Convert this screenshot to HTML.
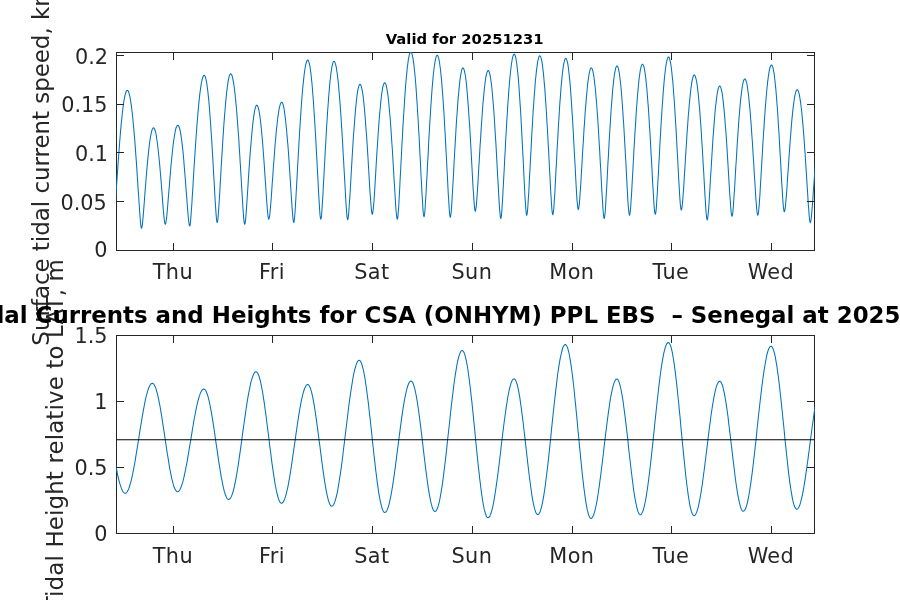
<!DOCTYPE html>
<html lang="en">
<head>
<meta charset="utf-8">
<title>Tidal Currents and Heights</title>
<style>
html,body{margin:0;padding:0;background:#fff;}
body{width:900px;height:600px;overflow:hidden;}
svg{display:block;}
text{font-family:"DejaVu Sans","Liberation Sans",sans-serif;fill:#262626;}
.tk{font-size:20.8px;}
.lb{font-size:22.9px;}
.xl{letter-spacing:0.4px;}
.lb2{letter-spacing:0.15px;}
.t1{font-size:14.8px;font-weight:bold;fill:#000;}
.t2{font-size:22.9px;font-weight:bold;fill:#000;white-space:pre;}
</style>
</head>
<body>
<svg width="900" height="600" viewBox="0 0 900 600">
<rect x="0" y="0" width="900" height="600" fill="#ffffff"/>
<defs>
<clipPath id="c1"><rect x="116.0" y="52.0" width="699.0" height="199.0"/></clipPath>
<clipPath id="c2"><rect x="116.0" y="335.0" width="699.0" height="199.0"/></clipPath>
</defs>

<rect x="116.5" y="52.5" width="698.0" height="198.0" stroke="#262626" stroke-width="1" fill="none" shape-rendering="crispEdges"/>
<g clip-path="url(#c1)"><polyline fill="none" stroke="#0072BD" stroke-width="1.05" stroke-linejoin="round" points="113.1,225.3 113.4,224.5 113.8,222.4 114.1,219.2 114.5,215.2 114.8,210.7 115.2,205.8 115.6,200.7 115.9,195.5 116.3,190.2 116.6,184.9 117.0,179.6 117.3,174.4 117.7,169.2 118.0,164.1 118.4,159.1 118.8,154.2 119.1,149.4 119.5,144.7 119.8,140.2 120.2,135.8 120.5,131.6 120.9,127.6 121.2,123.7 121.6,120.1 122.0,116.6 122.3,113.3 122.7,110.2 123.0,107.3 123.4,104.6 123.7,102.2 124.1,99.9 124.5,97.9 124.8,96.2 125.2,94.6 125.5,93.3 125.9,92.2 126.2,91.4 126.6,90.8 126.9,90.4 127.3,90.3 127.7,90.4 128.0,90.8 128.4,91.4 128.7,92.2 129.1,93.3 129.4,94.6 129.8,96.2 130.1,98.0 130.5,100.0 130.8,102.3 131.2,104.7 131.6,107.4 131.9,110.3 132.3,113.4 132.6,116.7 133.0,120.2 133.3,123.9 133.7,127.8 134.0,131.9 134.4,136.1 134.8,140.5 135.1,145.1 135.5,149.8 135.8,154.6 136.2,159.6 136.5,164.7 136.9,169.9 137.2,175.1 137.6,180.5 137.9,185.9 138.3,191.3 138.7,196.7 139.0,202.0 139.4,207.3 139.7,212.4 140.1,217.2 140.4,221.5 140.8,225.0 141.1,227.4 141.5,228.3 141.8,227.8 142.1,226.4 142.4,224.2 142.7,221.4 143.0,218.1 143.3,214.6 143.6,210.9 143.9,207.1 144.2,203.2 144.5,199.3 144.8,195.3 145.1,191.4 145.4,187.5 145.7,183.7 146.0,179.9 146.3,176.2 146.6,172.6 146.9,169.0 147.2,165.6 147.5,162.3 147.8,159.1 148.1,156.1 148.4,153.2 148.7,150.4 149.0,147.7 149.3,145.2 149.6,142.9 149.9,140.7 150.2,138.7 150.5,136.8 150.8,135.1 151.1,133.6 151.4,132.3 151.7,131.1 152.0,130.1 152.3,129.3 152.6,128.6 152.9,128.2 153.2,127.9 153.5,127.8 153.8,127.9 154.1,128.2 154.4,128.6 154.7,129.2 155.0,130.0 155.3,131.0 155.6,132.2 155.9,133.5 156.2,135.0 156.4,136.7 156.7,138.5 157.0,140.5 157.3,142.7 157.6,145.0 157.9,147.4 158.2,150.0 158.5,152.8 158.8,155.7 159.1,158.7 159.4,161.8 159.7,165.0 160.0,168.4 160.3,171.8 160.6,175.3 160.9,178.9 161.2,182.6 161.5,186.3 161.8,190.1 162.1,193.9 162.4,197.7 162.6,201.4 162.9,205.1 163.2,208.7 163.5,212.2 163.8,215.4 164.1,218.3 164.4,220.8 164.7,222.7 165.0,223.9 165.3,224.3 165.6,223.9 165.9,222.6 166.2,220.6 166.6,218.0 166.9,215.0 167.2,211.7 167.5,208.2 167.8,204.5 168.1,200.6 168.4,196.8 168.7,192.9 169.1,189.0 169.4,185.1 169.7,181.3 170.0,177.6 170.3,173.9 170.6,170.2 170.9,166.7 171.2,163.3 171.6,160.0 171.9,156.8 172.2,153.7 172.5,150.8 172.8,148.0 173.1,145.3 173.4,142.8 173.7,140.4 174.1,138.2 174.4,136.2 174.7,134.3 175.0,132.6 175.3,131.1 175.6,129.7 175.9,128.5 176.2,127.5 176.6,126.7 176.9,126.0 177.2,125.6 177.5,125.3 177.8,125.2 178.1,125.3 178.4,125.6 178.7,126.0 179.0,126.7 179.3,127.5 179.6,128.5 179.9,129.7 180.2,131.1 180.5,132.6 180.8,134.4 181.1,136.2 181.4,138.3 181.7,140.5 182.0,142.9 182.3,145.4 182.6,148.1 182.9,150.9 183.2,153.9 183.5,157.0 183.8,160.2 184.0,163.6 184.3,167.0 184.6,170.6 184.9,174.2 185.2,178.0 185.5,181.8 185.8,185.7 186.1,189.6 186.4,193.5 186.7,197.5 187.0,201.4 187.3,205.3 187.6,209.1 187.9,212.8 188.2,216.2 188.5,219.4 188.8,222.1 189.1,224.2 189.4,225.5 189.7,226.0 190.1,225.1 190.4,222.5 190.8,218.6 191.1,213.9 191.5,208.7 191.9,203.2 192.2,197.4 192.6,191.6 193.0,185.7 193.3,179.7 193.7,173.9 194.0,168.0 194.4,162.3 194.8,156.6 195.1,151.1 195.5,145.6 195.9,140.3 196.2,135.2 196.6,130.2 196.9,125.4 197.3,120.8 197.7,116.3 198.0,112.1 198.4,108.0 198.8,104.2 199.1,100.6 199.5,97.2 199.8,94.0 200.2,91.1 200.6,88.4 200.9,85.9 201.3,83.7 201.7,81.7 202.0,80.0 202.4,78.6 202.8,77.4 203.1,76.5 203.5,75.8 203.8,75.4 204.2,75.3 204.5,75.4 204.8,75.8 205.2,76.5 205.5,77.4 205.8,78.6 206.1,80.0 206.5,81.7 206.8,83.7 207.1,85.8 207.4,88.3 207.8,91.0 208.1,93.9 208.4,97.0 208.8,100.4 209.1,104.0 209.4,107.8 209.7,111.8 210.0,116.0 210.4,120.5 210.7,125.0 211.0,129.8 211.3,134.7 211.7,139.8 212.0,145.1 212.3,150.4 212.6,155.9 213.0,161.5 213.3,167.1 213.6,172.9 213.9,178.6 214.3,184.4 214.6,190.2 214.9,195.8 215.2,201.4 215.6,206.7 215.9,211.6 216.2,215.9 216.5,219.4 216.9,221.7 217.2,222.5 217.5,221.7 217.9,219.3 218.2,215.8 218.5,211.4 218.9,206.4 219.2,201.1 219.6,195.5 219.9,189.7 220.2,183.9 220.6,178.1 220.9,172.3 221.2,166.5 221.6,160.8 221.9,155.1 222.3,149.6 222.6,144.2 222.9,138.9 223.3,133.8 223.6,128.8 223.9,124.0 224.3,119.4 224.6,114.9 225.0,110.7 225.3,106.6 225.6,102.8 226.0,99.1 226.3,95.7 226.6,92.5 227.0,89.6 227.3,86.9 227.7,84.4 228.0,82.2 228.3,80.3 228.7,78.6 229.0,77.1 229.3,75.9 229.7,75.0 230.0,74.3 230.4,73.9 230.7,73.8 231.0,73.9 231.4,74.3 231.8,75.0 232.1,75.9 232.4,77.1 232.8,78.6 233.1,80.3 233.5,82.3 233.8,84.5 234.2,86.9 234.5,89.7 234.9,92.6 235.2,95.8 235.6,99.2 235.9,102.9 236.3,106.7 236.6,110.8 237.0,115.1 237.3,119.5 237.7,124.2 238.0,129.0 238.4,134.0 238.8,139.2 239.1,144.5 239.4,149.9 239.8,155.5 240.1,161.2 240.5,167.0 240.8,172.8 241.2,178.7 241.5,184.6 241.9,190.5 242.2,196.3 242.6,202.0 242.9,207.5 243.3,212.6 243.6,217.2 244.0,220.9 244.3,223.4 244.7,224.3 245.0,223.7 245.3,222.0 245.6,219.4 245.9,216.1 246.2,212.2 246.5,208.1 246.8,203.7 247.1,199.1 247.4,194.5 247.7,189.9 248.0,185.2 248.3,180.5 248.6,175.9 248.9,171.4 249.2,166.9 249.5,162.5 249.8,158.2 250.1,154.1 250.4,150.0 250.8,146.1 251.1,142.3 251.4,138.7 251.7,135.2 252.0,131.9 252.3,128.8 252.6,125.9 252.9,123.1 253.2,120.5 253.5,118.1 253.8,115.9 254.1,113.9 254.4,112.1 254.7,110.5 255.0,109.1 255.3,107.9 255.6,106.9 255.9,106.2 256.2,105.6 256.5,105.3 256.8,105.2 257.1,105.3 257.4,105.6 257.7,106.2 258.0,106.9 258.3,107.9 258.6,109.0 258.9,110.4 259.2,112.0 259.5,113.8 259.8,115.7 260.1,117.9 260.4,120.3 260.7,122.8 261.0,125.5 261.3,128.4 261.6,131.5 261.9,134.8 262.2,138.2 262.5,141.7 262.8,145.4 263.1,149.2 263.4,153.2 263.7,157.2 264.0,161.4 264.3,165.7 264.6,170.0 264.9,174.4 265.2,178.9 265.5,183.4 265.8,187.8 266.1,192.3 266.4,196.6 266.7,200.9 267.0,204.9 267.3,208.7 267.6,212.1 267.9,215.0 268.2,217.3 268.5,218.7 268.8,219.2 269.1,218.7 269.4,217.2 269.8,214.9 270.1,211.8 270.4,208.3 270.7,204.4 271.1,200.2 271.4,195.9 271.7,191.4 272.0,186.8 272.3,182.2 272.7,177.6 273.0,173.1 273.3,168.5 273.6,164.1 274.0,159.7 274.3,155.5 274.6,151.3 274.9,147.2 275.2,143.3 275.6,139.5 275.9,135.9 276.2,132.4 276.5,129.1 276.9,126.0 277.2,123.0 277.5,120.2 277.8,117.6 278.2,115.2 278.5,113.0 278.8,110.9 279.1,109.1 279.4,107.5 279.8,106.1 280.1,104.9 280.4,103.9 280.7,103.2 281.1,102.6 281.4,102.3 281.7,102.2 282.0,102.3 282.3,102.6 282.6,103.2 282.9,104.0 283.2,104.9 283.5,106.1 283.8,107.6 284.1,109.2 284.4,111.0 284.7,113.1 285.0,115.3 285.3,117.8 285.6,120.4 285.9,123.2 286.2,126.2 286.5,129.4 286.8,132.8 287.1,136.3 287.4,140.0 287.8,143.8 288.1,147.8 288.4,151.9 288.7,156.1 289.0,160.4 289.3,164.9 289.6,169.4 289.9,174.0 290.2,178.7 290.5,183.4 290.8,188.1 291.1,192.8 291.4,197.5 291.7,202.1 292.0,206.5 292.3,210.6 292.6,214.4 292.9,217.7 293.2,220.3 293.5,221.9 293.8,222.5 294.1,221.5 294.5,218.8 294.8,214.8 295.2,209.8 295.5,204.3 295.9,198.4 296.2,192.2 296.6,185.9 296.9,179.5 297.3,173.1 297.6,166.8 298.0,160.5 298.3,154.3 298.7,148.1 299.0,142.1 299.4,136.3 299.7,130.5 300.1,125.0 300.4,119.6 300.8,114.3 301.1,109.3 301.4,104.5 301.8,99.9 302.1,95.5 302.5,91.3 302.8,87.4 303.2,83.7 303.5,80.3 303.9,77.1 304.2,74.2 304.6,71.5 304.9,69.1 305.3,67.0 305.6,65.1 306.0,63.6 306.3,62.3 306.7,61.3 307.0,60.6 307.4,60.1 307.7,60.0 308.0,60.1 308.4,60.6 308.7,61.3 309.0,62.3 309.3,63.6 309.7,65.1 310.0,67.0 310.3,69.1 310.6,71.4 311.0,74.1 311.3,77.0 311.6,80.2 312.0,83.6 312.3,87.3 312.6,91.2 312.9,95.3 313.3,99.6 313.6,104.2 313.9,109.0 314.2,114.0 314.6,119.2 314.9,124.5 315.2,130.0 315.6,135.7 315.9,141.5 316.2,147.4 316.5,153.5 316.9,159.6 317.2,165.8 317.5,172.1 317.9,178.3 318.2,184.5 318.5,190.7 318.8,196.6 319.2,202.3 319.5,207.6 319.8,212.2 320.1,215.9 320.5,218.3 320.8,219.2 321.1,218.4 321.5,215.9 321.8,212.3 322.1,207.7 322.4,202.5 322.8,196.9 323.1,191.0 323.4,184.9 323.8,178.7 324.1,172.5 324.4,166.3 324.8,160.2 325.1,154.1 325.4,148.1 325.8,142.2 326.1,136.4 326.4,130.8 326.7,125.3 327.1,120.0 327.4,114.9 327.7,110.0 328.1,105.2 328.4,100.7 328.7,96.3 329.1,92.2 329.4,88.4 329.7,84.7 330.0,81.3 330.4,78.2 330.7,75.3 331.0,72.7 331.4,70.3 331.7,68.2 332.0,66.4 332.4,64.8 332.7,63.6 333.0,62.6 333.3,61.9 333.7,61.4 334.0,61.3 334.3,61.4 334.7,61.9 335.0,62.6 335.4,63.6 335.7,64.8 336.1,66.4 336.4,68.2 336.7,70.3 337.1,72.7 337.4,75.3 337.8,78.2 338.1,81.3 338.5,84.7 338.8,88.4 339.1,92.3 339.5,96.4 339.8,100.7 340.2,105.2 340.5,110.0 340.9,115.0 341.2,120.1 341.5,125.4 341.9,130.9 342.2,136.5 342.6,142.3 342.9,148.2 343.2,154.2 343.6,160.3 343.9,166.5 344.3,172.7 344.6,178.9 345.0,185.1 345.3,191.2 345.6,197.1 346.0,202.8 346.3,208.1 346.7,212.7 347.0,216.4 347.4,218.8 347.7,219.7 348.0,219.0 348.3,217.1 348.6,214.2 348.9,210.5 349.2,206.2 349.5,201.5 349.9,196.5 350.2,191.4 350.5,186.1 350.8,180.8 351.1,175.5 351.4,170.2 351.7,165.0 352.0,159.8 352.3,154.7 352.6,149.7 352.9,144.8 353.2,140.1 353.5,135.4 353.9,131.0 354.2,126.7 354.5,122.5 354.8,118.6 355.1,114.8 355.4,111.3 355.7,107.9 356.0,104.7 356.3,101.8 356.6,99.0 356.9,96.5 357.2,94.2 357.5,92.1 357.8,90.3 358.2,88.7 358.5,87.4 358.8,86.3 359.1,85.4 359.4,84.8 359.7,84.4 360.0,84.3 360.3,84.4 360.6,84.8 360.9,85.4 361.2,86.2 361.5,87.3 361.8,88.7 362.2,90.2 362.5,92.0 362.8,94.1 363.1,96.3 363.4,98.8 363.7,101.5 364.0,104.4 364.3,107.5 364.6,110.9 364.9,114.4 365.2,118.1 365.5,122.0 365.8,126.0 366.1,130.2 366.5,134.6 366.8,139.1 367.1,143.8 367.4,148.5 367.7,153.4 368.0,158.3 368.3,163.4 368.6,168.4 368.9,173.5 369.2,178.6 369.5,183.7 369.8,188.7 370.1,193.5 370.5,198.1 370.8,202.4 371.1,206.3 371.4,209.6 371.7,212.1 372.0,213.7 372.3,214.3 372.6,213.7 372.9,212.1 373.2,209.5 373.5,206.1 373.9,202.2 374.2,197.8 374.5,193.2 374.8,188.3 375.1,183.2 375.4,178.1 375.7,172.9 376.0,167.8 376.3,162.6 376.6,157.6 376.9,152.5 377.3,147.6 377.6,142.8 377.9,138.1 378.2,133.5 378.5,129.1 378.8,124.9 379.1,120.8 379.4,116.8 379.7,113.1 380.1,109.5 380.4,106.2 380.7,103.0 381.0,100.1 381.3,97.4 381.6,94.9 381.9,92.6 382.2,90.5 382.5,88.7 382.8,87.1 383.1,85.8 383.5,84.7 383.8,83.8 384.1,83.2 384.4,82.8 384.7,82.7 385.0,82.8 385.3,83.2 385.6,83.8 386.0,84.7 386.3,85.8 386.6,87.2 386.9,88.8 387.2,90.6 387.5,92.7 387.9,95.0 388.2,97.6 388.5,100.3 388.8,103.3 389.1,106.5 389.4,109.9 389.7,113.5 390.1,117.3 390.4,121.3 390.7,125.5 391.0,129.8 391.3,134.3 391.6,139.0 391.9,143.7 392.3,148.7 392.6,153.7 392.9,158.9 393.2,164.1 393.5,169.4 393.8,174.7 394.1,180.1 394.5,185.4 394.8,190.7 395.1,195.9 395.4,200.9 395.7,205.6 396.0,209.9 396.4,213.7 396.7,216.6 397.0,218.5 397.3,219.2 397.6,218.3 398.0,215.6 398.3,211.6 398.7,206.7 399.0,201.1 399.3,195.1 399.7,188.8 400.0,182.3 400.3,175.8 400.7,169.2 401.0,162.7 401.4,156.2 401.7,149.7 402.0,143.4 402.4,137.2 402.7,131.1 403.0,125.2 403.4,119.4 403.7,113.8 404.1,108.4 404.4,103.2 404.7,98.2 405.1,93.4 405.4,88.9 405.7,84.5 406.1,80.5 406.4,76.6 406.8,73.1 407.1,69.8 407.4,66.7 407.8,64.0 408.1,61.5 408.4,59.3 408.8,57.3 409.1,55.7 409.4,54.4 409.8,53.3 410.1,52.6 410.5,52.1 410.8,52.0 411.1,52.1 411.5,52.6 411.8,53.3 412.1,54.4 412.4,55.7 412.8,57.3 413.1,59.2 413.4,61.4 413.8,63.9 414.1,66.7 414.4,69.7 414.8,73.0 415.1,76.5 415.4,80.3 415.8,84.4 416.1,88.7 416.4,93.2 416.7,98.0 417.1,102.9 417.4,108.1 417.7,113.5 418.1,119.0 418.4,124.8 418.7,130.7 419.1,136.7 419.4,142.9 419.7,149.1 420.0,155.5 420.4,161.9 420.7,168.4 421.0,174.8 421.4,181.2 421.7,187.6 422.0,193.7 422.4,199.5 422.7,204.9 423.0,209.6 423.3,213.4 423.7,215.8 424.0,216.7 424.3,215.9 424.7,213.5 425.0,209.8 425.3,205.3 425.6,200.0 426.0,194.3 426.3,188.3 426.6,182.1 427.0,175.9 427.3,169.5 427.6,163.2 428.0,156.9 428.3,150.7 428.6,144.5 428.9,138.5 429.3,132.6 429.6,126.8 429.9,121.1 430.3,115.7 430.6,110.4 430.9,105.3 431.3,100.5 431.6,95.8 431.9,91.3 432.2,87.1 432.6,83.1 432.9,79.4 433.2,75.9 433.6,72.7 433.9,69.7 434.2,67.0 434.6,64.6 434.9,62.4 435.2,60.5 435.6,58.9 435.9,57.6 436.2,56.6 436.5,55.9 436.9,55.4 437.2,55.3 437.5,55.4 437.9,55.9 438.2,56.6 438.5,57.6 438.8,58.9 439.2,60.5 439.5,62.4 439.8,64.6 440.1,67.0 440.5,69.7 440.8,72.7 441.1,75.9 441.5,79.4 441.8,83.2 442.1,87.1 442.4,91.4 442.8,95.8 443.1,100.5 443.4,105.4 443.8,110.5 444.1,115.8 444.4,121.2 444.7,126.9 445.1,132.6 445.4,138.6 445.7,144.6 446.0,150.8 446.4,157.0 446.7,163.4 447.0,169.7 447.4,176.1 447.7,182.4 448.0,188.6 448.3,194.6 448.7,200.3 449.0,205.6 449.3,210.3 449.6,213.9 450.0,216.4 450.3,217.2 450.6,216.5 450.9,214.3 451.3,211.1 451.6,206.9 451.9,202.2 452.2,197.0 452.5,191.5 452.8,185.8 453.2,180.0 453.5,174.2 453.8,168.3 454.1,162.5 454.4,156.7 454.7,151.0 455.1,145.4 455.4,139.9 455.7,134.5 456.0,129.3 456.3,124.2 456.6,119.3 457.0,114.6 457.3,110.1 457.6,105.7 457.9,101.6 458.2,97.6 458.6,93.9 458.9,90.4 459.2,87.2 459.5,84.2 459.8,81.4 460.1,78.9 460.5,76.6 460.8,74.6 461.1,72.9 461.4,71.4 461.7,70.2 462.0,69.2 462.4,68.5 462.7,68.1 463.0,68.0 463.3,68.1 463.6,68.5 463.9,69.2 464.2,70.1 464.5,71.3 464.8,72.8 465.2,74.5 465.5,76.5 465.8,78.7 466.1,81.2 466.4,84.0 466.7,86.9 467.0,90.1 467.3,93.6 467.6,97.2 467.9,101.1 468.2,105.1 468.5,109.4 468.8,113.9 469.1,118.5 469.5,123.3 469.8,128.3 470.1,133.4 470.4,138.6 470.7,144.0 471.0,149.5 471.3,155.0 471.6,160.6 471.9,166.2 472.2,171.8 472.5,177.4 472.8,182.9 473.1,188.2 473.5,193.3 473.8,198.1 474.1,202.4 474.4,206.1 474.7,208.9 475.0,210.7 475.3,211.3 475.6,210.7 475.9,208.9 476.3,206.2 476.6,202.6 476.9,198.4 477.2,193.8 477.6,188.8 477.9,183.5 478.2,178.2 478.5,172.7 478.8,167.2 479.2,161.6 479.5,156.1 479.8,150.7 480.1,145.3 480.5,140.0 480.8,134.9 481.1,129.9 481.4,125.0 481.8,120.2 482.1,115.7 482.4,111.3 482.7,107.1 483.0,103.1 483.4,99.3 483.7,95.7 484.0,92.3 484.3,89.1 484.7,86.2 485.0,83.5 485.3,81.1 485.6,78.9 485.9,76.9 486.3,75.2 486.6,73.8 486.9,72.6 487.2,71.7 487.6,71.0 487.9,70.6 488.2,70.5 488.5,70.6 488.8,71.0 489.1,71.7 489.5,72.6 489.8,73.8 490.1,75.3 490.4,77.0 490.7,79.0 491.0,81.3 491.4,83.8 491.7,86.5 492.0,89.5 492.3,92.7 492.6,96.1 492.9,99.8 493.2,103.7 493.6,107.8 493.9,112.1 494.2,116.5 494.5,121.2 494.8,126.1 495.1,131.1 495.4,136.3 495.8,141.6 496.1,147.0 496.4,152.6 496.7,158.2 497.0,164.0 497.3,169.7 497.6,175.5 498.0,181.3 498.3,187.1 498.6,192.7 498.9,198.2 499.2,203.4 499.5,208.2 499.9,212.3 500.2,215.6 500.5,217.8 500.8,218.5 501.1,217.6 501.5,215.1 501.8,211.2 502.1,206.4 502.5,201.0 502.8,195.1 503.1,189.0 503.5,182.6 503.8,176.2 504.2,169.8 504.5,163.3 504.8,156.9 505.2,150.6 505.5,144.4 505.8,138.2 506.2,132.2 506.5,126.4 506.8,120.7 507.2,115.2 507.5,109.9 507.8,104.7 508.2,99.8 508.5,95.1 508.8,90.6 509.2,86.3 509.5,82.3 509.8,78.5 510.2,75.0 510.5,71.7 510.9,68.7 511.2,66.0 511.5,63.5 511.9,61.4 512.2,59.5 512.5,57.9 512.9,56.6 513.2,55.5 513.5,54.8 513.9,54.3 514.2,54.2 514.5,54.3 514.8,54.8 515.1,55.5 515.5,56.5 515.8,57.8 516.1,59.4 516.4,61.3 516.7,63.5 517.0,65.9 517.3,68.6 517.6,71.6 518.0,74.9 518.3,78.4 518.6,82.1 518.9,86.1 519.2,90.3 519.5,94.8 519.8,99.5 520.1,104.4 520.5,109.5 520.8,114.8 521.1,120.2 521.4,125.9 521.7,131.6 522.0,137.6 522.3,143.6 522.6,149.8 523.0,156.0 523.3,162.3 523.6,168.6 523.9,174.9 524.2,181.2 524.5,187.3 524.8,193.2 525.1,198.9 525.5,204.0 525.8,208.5 526.1,212.1 526.4,214.4 526.7,215.2 527.0,214.4 527.4,212.1 527.7,208.6 528.0,204.2 528.3,199.1 528.7,193.5 529.0,187.7 529.3,181.6 529.6,175.4 530.0,169.2 530.3,162.9 530.6,156.7 531.0,150.5 531.3,144.4 531.6,138.4 531.9,132.5 532.3,126.8 532.6,121.2 532.9,115.8 533.2,110.6 533.6,105.5 533.9,100.7 534.2,96.0 534.6,91.6 534.9,87.4 535.2,83.5 535.5,79.8 535.9,76.3 536.2,73.1 536.5,70.1 536.9,67.4 537.2,65.0 537.5,62.9 537.8,61.0 538.2,59.4 538.5,58.1 538.8,57.1 539.1,56.4 539.5,55.9 539.8,55.8 540.1,55.9 540.4,56.4 540.8,57.1 541.1,58.1 541.4,59.4 541.8,61.0 542.1,62.9 542.4,65.0 542.7,67.4 543.0,70.1 543.4,73.1 543.7,76.3 544.0,79.7 544.3,83.4 544.7,87.4 545.0,91.6 545.3,96.0 545.6,100.6 546.0,105.5 546.3,110.5 546.6,115.7 546.9,121.2 547.3,126.7 547.6,132.5 547.9,138.3 548.2,144.3 548.6,150.4 548.9,156.5 549.2,162.7 549.5,169.0 549.9,175.2 550.2,181.4 550.5,187.4 550.8,193.2 551.2,198.8 551.5,203.8 551.8,208.2 552.1,211.7 552.5,213.9 552.8,214.7 553.1,213.9 553.4,211.8 553.8,208.4 554.1,204.1 554.4,199.1 554.8,193.7 555.1,188.0 555.4,182.0 555.7,176.0 556.0,169.9 556.4,163.7 556.7,157.6 557.0,151.5 557.3,145.5 557.7,139.6 558.0,133.9 558.3,128.2 558.6,122.7 559.0,117.4 559.3,112.3 559.6,107.3 559.9,102.5 560.3,97.9 560.6,93.6 560.9,89.5 561.2,85.6 561.6,81.9 561.9,78.5 562.2,75.3 562.5,72.4 562.9,69.8 563.2,67.4 563.5,65.3 563.8,63.4 564.2,61.9 564.5,60.6 564.8,59.6 565.1,58.9 565.5,58.4 565.8,58.3 566.1,58.4 566.4,58.9 566.7,59.6 567.0,60.6 567.4,61.8 567.7,63.4 568.0,65.2 568.3,67.3 568.6,69.6 568.9,72.2 569.2,75.1 569.5,78.2 569.9,81.6 570.2,85.2 570.5,89.1 570.8,93.2 571.1,97.4 571.4,101.9 571.7,106.6 572.0,111.5 572.4,116.6 572.7,121.8 573.0,127.2 573.3,132.8 573.6,138.4 573.9,144.2 574.2,150.0 574.5,155.9 574.9,161.8 575.2,167.8 575.5,173.7 575.8,179.5 576.1,185.1 576.4,190.5 576.7,195.5 577.0,200.1 577.4,203.9 577.7,206.9 578.0,208.8 578.3,209.5 578.6,208.9 578.9,207.2 579.3,204.5 579.6,201.0 579.9,196.8 580.2,192.2 580.6,187.2 580.9,181.9 581.2,176.5 581.5,171.0 581.9,165.5 582.2,160.0 582.5,154.4 582.8,148.9 583.2,143.5 583.5,138.2 583.8,133.0 584.1,127.9 584.5,123.0 584.8,118.2 585.1,113.6 585.4,109.2 585.8,104.9 586.1,100.9 586.4,97.1 586.8,93.4 587.1,90.0 587.4,86.8 587.7,83.9 588.0,81.2 588.4,78.7 588.7,76.5 589.0,74.5 589.3,72.8 589.7,71.3 590.0,70.1 590.3,69.2 590.6,68.5 591.0,68.1 591.3,68.0 591.6,68.1 591.9,68.5 592.3,69.2 592.6,70.2 592.9,71.4 593.2,72.9 593.6,74.6 593.9,76.7 594.2,78.9 594.5,81.4 594.8,84.2 595.2,87.2 595.5,90.5 595.8,94.0 596.1,97.7 596.5,101.7 596.8,105.8 597.1,110.2 597.4,114.7 597.8,119.5 598.1,124.4 598.4,129.5 598.7,134.8 599.0,140.1 599.4,145.7 599.7,151.3 600.0,157.1 600.3,162.9 600.7,168.8 601.0,174.7 601.3,180.6 601.6,186.4 601.9,192.2 602.3,197.7 602.6,203.0 602.9,207.9 603.2,212.2 603.6,215.5 603.9,217.7 604.2,218.5 604.5,217.7 604.8,215.5 605.2,212.0 605.5,207.7 605.8,202.7 606.1,197.4 606.4,191.7 606.8,185.9 607.1,179.9 607.4,174.0 607.7,168.0 608.0,162.0 608.4,156.1 608.7,150.3 609.0,144.6 609.3,139.0 609.6,133.5 610.0,128.2 610.3,123.1 610.6,118.1 610.9,113.3 611.2,108.7 611.6,104.3 611.9,100.1 612.2,96.1 612.5,92.3 612.8,88.8 613.2,85.5 613.5,82.4 613.8,79.6 614.1,77.0 614.4,74.8 614.8,72.7 615.1,70.9 615.4,69.4 615.7,68.2 616.0,67.2 616.4,66.6 616.7,66.1 617.0,66.0 617.3,66.1 617.6,66.5 617.9,67.2 618.2,68.2 618.6,69.4 618.9,70.9 619.2,72.7 619.5,74.7 619.8,77.0 620.1,79.5 620.4,82.3 620.8,85.3 621.1,88.6 621.4,92.1 621.7,95.8 622.0,99.8 622.3,104.0 622.6,108.3 622.9,112.9 623.2,117.7 623.6,122.6 623.9,127.7 624.2,133.0 624.5,138.4 624.8,143.9 625.1,149.5 625.4,155.2 625.8,161.0 626.1,166.9 626.4,172.7 626.7,178.6 627.0,184.3 627.3,190.0 627.6,195.4 627.9,200.6 628.2,205.2 628.6,209.3 628.9,212.4 629.2,214.5 629.5,215.2 629.8,214.5 630.1,212.4 630.5,209.2 630.8,205.1 631.1,200.3 631.5,195.1 631.8,189.6 632.1,183.9 632.4,178.0 632.8,172.1 633.1,166.2 633.4,160.3 633.7,154.4 634.0,148.6 634.4,142.9 634.7,137.3 635.0,131.9 635.4,126.6 635.7,121.4 636.0,116.4 636.3,111.6 636.6,107.0 637.0,102.6 637.3,98.4 637.6,94.4 638.0,90.6 638.3,87.0 638.6,83.7 638.9,80.7 639.2,77.9 639.6,75.3 639.9,73.0 640.2,70.9 640.5,69.2 640.9,67.6 641.2,66.4 641.5,65.4 641.9,64.8 642.2,64.3 642.5,64.2 642.8,64.3 643.1,64.8 643.5,65.4 643.8,66.4 644.1,67.6 644.4,69.2 644.7,70.9 645.1,73.0 645.4,75.3 645.7,77.8 646.0,80.6 646.3,83.7 646.7,87.0 647.0,90.5 647.3,94.3 647.6,98.3 647.9,102.5 648.3,106.9 648.6,111.5 648.9,116.3 649.2,121.3 649.5,126.4 649.9,131.7 650.2,137.1 650.5,142.7 650.8,148.4 651.1,154.1 651.5,160.0 651.8,165.9 652.1,171.8 652.4,177.6 652.7,183.4 653.1,189.1 653.4,194.5 653.7,199.7 654.0,204.4 654.3,208.4 654.7,211.6 655.0,213.6 655.3,214.3 655.6,213.5 656.0,211.3 656.3,208.0 656.6,203.7 656.9,198.7 657.3,193.2 657.6,187.5 657.9,181.5 658.3,175.4 658.6,169.2 658.9,163.1 659.3,156.9 659.6,150.8 659.9,144.8 660.2,138.9 660.6,133.1 660.9,127.4 661.2,121.9 661.6,116.5 661.9,111.3 662.2,106.3 662.6,101.5 662.9,96.9 663.2,92.5 663.5,88.4 663.9,84.4 664.2,80.7 664.5,77.3 664.9,74.1 665.2,71.2 665.5,68.5 665.9,66.1 666.2,64.0 666.5,62.2 666.9,60.6 667.2,59.3 667.5,58.3 667.8,57.6 668.2,57.1 668.5,57.0 668.8,57.1 669.1,57.6 669.5,58.3 669.8,59.3 670.1,60.6 670.4,62.1 670.7,63.9 671.1,66.0 671.4,68.4 671.7,71.1 672.0,74.0 672.3,77.1 672.7,80.5 673.0,84.2 673.3,88.0 673.6,92.2 673.9,96.5 674.3,101.0 674.6,105.8 674.9,110.7 675.2,115.8 675.5,121.1 675.9,126.6 676.2,132.1 676.5,137.8 676.8,143.7 677.1,149.6 677.5,155.5 677.8,161.5 678.1,167.5 678.4,173.5 678.7,179.4 679.1,185.1 679.4,190.6 679.7,195.7 680.0,200.3 680.3,204.3 680.7,207.4 681.0,209.3 681.3,210.0 681.6,209.4 681.9,207.8 682.3,205.3 682.6,202.0 682.9,198.1 683.2,193.7 683.6,188.9 683.9,184.0 684.2,178.9 684.5,173.6 684.9,168.3 685.2,163.0 685.5,157.8 685.8,152.5 686.2,147.3 686.5,142.3 686.8,137.3 687.1,132.4 687.5,127.7 687.8,123.1 688.1,118.7 688.4,114.5 688.8,110.4 689.1,106.5 689.4,102.9 689.8,99.4 690.1,96.1 690.4,93.1 690.7,90.2 691.0,87.6 691.4,85.3 691.7,83.1 692.0,81.2 692.3,79.6 692.7,78.2 693.0,77.0 693.3,76.2 693.6,75.5 694.0,75.1 694.3,75.0 694.6,75.1 694.9,75.5 695.3,76.2 695.6,77.1 695.9,78.3 696.2,79.7 696.6,81.4 696.9,83.3 697.2,85.5 697.5,87.9 697.8,90.6 698.2,93.5 698.5,96.7 698.8,100.0 699.1,103.6 699.5,107.4 699.8,111.4 700.1,115.6 700.4,120.0 700.8,124.5 701.1,129.3 701.4,134.2 701.7,139.2 702.0,144.4 702.4,149.8 702.7,155.2 703.0,160.7 703.3,166.3 703.7,172.0 704.0,177.7 704.3,183.4 704.6,189.0 704.9,194.5 705.3,199.9 705.6,205.0 705.9,209.7 706.2,213.9 706.6,217.1 706.9,219.3 707.2,220.0 707.5,219.3 707.8,217.5 708.1,214.6 708.5,210.9 708.8,206.6 709.1,202.0 709.4,197.1 709.7,192.0 710.0,186.8 710.3,181.5 710.6,176.3 711.0,171.0 711.3,165.8 711.6,160.7 711.9,155.7 712.2,150.7 712.5,145.9 712.8,141.2 713.1,136.6 713.5,132.2 713.8,127.9 714.1,123.9 714.4,119.9 714.7,116.2 715.0,112.7 715.3,109.3 715.6,106.2 716.0,103.3 716.3,100.6 716.6,98.1 716.9,95.8 717.2,93.8 717.5,92.0 717.8,90.4 718.1,89.1 718.5,88.0 718.8,87.1 719.1,86.5 719.4,86.1 719.7,86.0 720.0,86.1 720.3,86.5 720.6,87.1 720.9,87.9 721.2,89.0 721.5,90.3 721.9,91.9 722.2,93.7 722.5,95.7 722.8,98.0 723.1,100.4 723.4,103.1 723.7,106.0 724.0,109.1 724.3,112.4 724.6,115.9 724.9,119.6 725.2,123.5 725.5,127.5 725.9,131.7 726.2,136.0 726.5,140.5 726.8,145.2 727.1,149.9 727.4,154.8 727.7,159.7 728.0,164.8 728.3,169.8 728.6,175.0 728.9,180.1 729.2,185.1 729.5,190.2 729.8,195.0 730.2,199.7 730.5,204.1 730.8,208.0 731.1,211.4 731.4,214.0 731.7,215.7 732.0,216.3 732.3,215.7 732.6,213.8 733.0,211.0 733.3,207.4 733.6,203.1 733.9,198.5 734.2,193.5 734.6,188.3 734.9,183.0 735.2,177.7 735.5,172.3 735.8,166.9 736.2,161.5 736.5,156.3 736.8,151.1 737.1,146.0 737.4,141.0 737.8,136.1 738.1,131.4 738.4,126.8 738.7,122.4 739.0,118.2 739.4,114.2 739.7,110.3 740.0,106.6 740.3,103.2 740.6,99.9 741.0,96.9 741.3,94.1 741.6,91.5 741.9,89.2 742.2,87.1 742.6,85.2 742.9,83.5 743.2,82.2 743.5,81.0 743.8,80.1 744.2,79.5 744.5,79.1 744.8,79.0 745.1,79.1 745.4,79.5 745.8,80.1 746.1,81.0 746.4,82.2 746.8,83.5 747.1,85.2 747.4,87.0 747.7,89.1 748.0,91.5 748.4,94.1 748.7,96.9 749.0,99.9 749.3,103.1 749.7,106.6 750.0,110.2 750.3,114.1 750.6,118.1 751.0,122.3 751.3,126.7 751.6,131.2 751.9,135.9 752.3,140.8 752.6,145.7 752.9,150.8 753.2,156.0 753.6,161.2 753.9,166.5 754.2,171.9 754.5,177.2 754.9,182.5 755.2,187.8 755.5,192.9 755.8,197.8 756.2,202.4 756.5,206.5 756.8,210.1 757.1,212.8 757.5,214.6 757.8,215.2 758.1,214.5 758.5,212.4 758.8,209.2 759.2,205.1 759.5,200.4 759.9,195.2 760.2,189.8 760.5,184.1 760.9,178.3 761.2,172.4 761.6,166.5 761.9,160.6 762.3,154.8 762.6,149.0 762.9,143.3 763.3,137.8 763.6,132.4 764.0,127.1 764.3,121.9 764.6,117.0 765.0,112.2 765.3,107.6 765.7,103.2 766.0,99.0 766.4,95.0 766.7,91.3 767.0,87.7 767.4,84.4 767.7,81.4 768.1,78.6 768.4,76.0 768.8,73.7 769.1,71.7 769.4,69.9 769.8,68.4 770.1,67.2 770.5,66.2 770.8,65.6 771.2,65.1 771.5,65.0 771.8,65.1 772.1,65.5 772.5,66.2 772.8,67.2 773.1,68.4 773.4,69.9 773.7,71.7 774.1,73.7 774.4,76.0 774.7,78.5 775.0,81.3 775.3,84.3 775.7,87.6 776.0,91.0 776.3,94.8 776.6,98.7 776.9,102.9 777.3,107.2 777.6,111.8 777.9,116.5 778.2,121.4 778.5,126.5 778.9,131.7 779.2,137.1 779.5,142.5 779.8,148.1 780.1,153.8 780.5,159.5 780.8,165.3 781.1,171.0 781.4,176.7 781.7,182.4 782.1,187.9 782.4,193.1 782.7,198.1 783.0,202.5 783.3,206.3 783.7,209.3 784.0,211.2 784.3,211.8 784.6,211.3 784.9,209.9 785.3,207.7 785.6,204.7 785.9,201.3 786.2,197.3 786.6,193.1 786.9,188.7 787.2,184.0 787.5,179.3 787.8,174.6 788.2,169.8 788.5,165.0 788.8,160.2 789.1,155.5 789.5,150.9 789.8,146.4 790.1,142.0 790.4,137.7 790.8,133.6 791.1,129.5 791.4,125.7 791.7,122.0 792.0,118.4 792.4,115.1 792.7,111.9 793.0,108.9 793.3,106.2 793.7,103.6 794.0,101.2 794.3,99.0 794.6,97.1 794.9,95.4 795.3,93.9 795.6,92.6 795.9,91.6 796.2,90.7 796.6,90.2 796.9,89.8 797.2,89.7 797.5,89.8 797.9,90.2 798.2,90.8 798.5,91.6 798.8,92.7 799.2,94.0 799.5,95.6 799.8,97.3 800.1,99.3 800.5,101.6 800.8,104.0 801.1,106.7 801.5,109.5 801.8,112.6 802.1,115.9 802.4,119.4 802.8,123.1 803.1,126.9 803.4,130.9 803.8,135.1 804.1,139.5 804.4,144.0 804.7,148.6 805.1,153.3 805.4,158.2 805.7,163.2 806.0,168.3 806.4,173.4 806.7,178.6 807.0,183.8 807.4,189.0 807.7,194.2 808.0,199.3 808.3,204.2 808.7,208.9 809.0,213.3 809.3,217.0 809.6,220.0 810.0,222.0 810.3,222.7 810.6,222.1 810.9,220.5 811.3,218.0 811.6,214.8 811.9,211.2 812.2,207.1 812.6,202.8 812.9,198.4 813.2,193.8 813.5,189.2 813.9,184.6 814.2,180.0 814.5,175.5 814.8,170.9 815.2,166.5 815.5,162.2 815.8,157.9 816.1,153.8 816.5,149.7 816.8,145.9 817.1,142.1 817.4,138.5 817.8,135.1 818.1,131.8 818.4,128.7 818.8,125.7 819.1,123.0 819.4,120.4 819.7,118.0 820.0,115.8 820.4,113.8 820.7,112.0 821.0,110.4 821.3,109.0 821.7,107.8 822.0,106.9 822.3,106.1 822.6,105.6 823.0,105.3 823.3,105.1"/></g>
<g stroke="#262626" stroke-width="1" fill="none" shape-rendering="crispEdges">
<line x1="173.5" y1="251.0" x2="173.5" y2="243.0"/>
<line x1="173.5" y1="52.0" x2="173.5" y2="60.0"/>
<line x1="272.5" y1="251.0" x2="272.5" y2="243.0"/>
<line x1="272.5" y1="52.0" x2="272.5" y2="60.0"/>
<line x1="372.5" y1="251.0" x2="372.5" y2="243.0"/>
<line x1="372.5" y1="52.0" x2="372.5" y2="60.0"/>
<line x1="472.5" y1="251.0" x2="472.5" y2="243.0"/>
<line x1="472.5" y1="52.0" x2="472.5" y2="60.0"/>
<line x1="572.5" y1="251.0" x2="572.5" y2="243.0"/>
<line x1="572.5" y1="52.0" x2="572.5" y2="60.0"/>
<line x1="671.5" y1="251.0" x2="671.5" y2="243.0"/>
<line x1="671.5" y1="52.0" x2="671.5" y2="60.0"/>
<line x1="771.5" y1="251.0" x2="771.5" y2="243.0"/>
<line x1="771.5" y1="52.0" x2="771.5" y2="60.0"/>
<line x1="116.0" y1="250.5" x2="124.0" y2="250.5"/>
<line x1="815.0" y1="250.5" x2="807.0" y2="250.5"/>
<line x1="116.0" y1="201.5" x2="124.0" y2="201.5"/>
<line x1="815.0" y1="201.5" x2="807.0" y2="201.5"/>
<line x1="116.0" y1="152.5" x2="124.0" y2="152.5"/>
<line x1="815.0" y1="152.5" x2="807.0" y2="152.5"/>
<line x1="116.0" y1="104.5" x2="124.0" y2="104.5"/>
<line x1="815.0" y1="104.5" x2="807.0" y2="104.5"/>
<line x1="116.0" y1="55.5" x2="124.0" y2="55.5"/>
<line x1="815.0" y1="55.5" x2="807.0" y2="55.5"/>
</g>
<text class="tk xl" x="172.9" y="278.6" text-anchor="middle">Thu</text>
<text class="tk xl" x="271.9" y="278.6" text-anchor="middle">Fri</text>
<text class="tk xl" x="371.9" y="278.6" text-anchor="middle">Sat</text>
<text class="tk xl" x="471.9" y="278.6" text-anchor="middle">Sun</text>
<text class="tk xl" x="571.9" y="278.6" text-anchor="middle">Mon</text>
<text class="tk xl" x="670.9" y="278.6" text-anchor="middle">Tue</text>
<text class="tk xl" x="770.9" y="278.6" text-anchor="middle">Wed</text>
<text class="tk" x="107.4" y="257.3" text-anchor="end">0</text>
<text class="tk" x="106.8" y="209.7" text-anchor="end">0.05</text>
<text class="tk" x="108.1" y="160.5" text-anchor="end">0.1</text>
<text class="tk" x="107.5" y="111.6" text-anchor="end">0.15</text>
<text class="tk" x="108.0" y="64.1" text-anchor="end">0.2</text>
<text class="t1" x="464.7" y="44" text-anchor="middle">Valid for 20251231</text>
<text class="lb" transform="translate(48.7,151.5) rotate(-90)" text-anchor="middle">Surface tidal current speed, knots</text>
<rect x="116.5" y="335.5" width="698.0" height="198.0" stroke="#262626" stroke-width="1" fill="none" shape-rendering="crispEdges"/>
<g clip-path="url(#c2)"><polyline fill="none" stroke="#0072BD" stroke-width="1.05" stroke-linejoin="round" points="99.2,397.6 99.9,397.7 100.5,398.2 101.2,398.9 101.8,399.9 102.5,401.2 103.1,402.8 103.8,404.6 104.4,406.7 105.0,409.0 105.7,411.6 106.4,414.3 107.0,417.3 107.7,420.4 108.3,423.7 109.0,427.1 109.6,430.6 110.2,434.3 110.9,437.9 111.5,441.7 112.2,445.4 112.9,449.2 113.5,452.9 114.2,456.6 114.8,460.2 115.5,463.8 116.1,467.2 116.8,470.4 117.4,473.6 118.0,476.5 118.7,479.3 119.4,481.8 120.0,484.2 120.7,486.2 121.3,488.1 122.0,489.7 122.6,491.0 123.2,492.0 123.9,492.7 124.5,493.2 125.2,493.3 125.9,493.1 126.6,492.6 127.2,491.8 127.9,490.6 128.6,489.1 129.3,487.3 129.9,485.2 130.6,482.8 131.3,480.1 132.0,477.2 132.7,474.0 133.3,470.6 134.0,467.0 134.7,463.3 135.4,459.3 136.0,455.3 136.7,451.1 137.4,446.9 138.1,442.6 138.8,438.3 139.4,434.0 140.1,429.7 140.8,425.5 141.5,421.3 142.1,417.3 142.8,413.3 143.5,409.6 144.2,406.0 144.8,402.6 145.5,399.4 146.2,396.5 146.9,393.8 147.6,391.4 148.2,389.3 148.9,387.5 149.6,386.0 150.3,384.8 150.9,384.0 151.6,383.5 152.3,383.3 152.9,383.5 153.6,384.0 154.2,384.8 154.8,386.0 155.5,387.4 156.1,389.2 156.7,391.3 157.3,393.7 158.0,396.3 158.6,399.2 159.2,402.3 159.9,405.6 160.5,409.2 161.1,412.9 161.8,416.8 162.4,420.8 163.0,424.8 163.6,429.0 164.3,433.2 164.9,437.5 165.5,441.8 166.2,446.0 166.8,450.2 167.4,454.2 168.1,458.2 168.7,462.1 169.3,465.8 169.9,469.4 170.6,472.7 171.2,475.8 171.8,478.7 172.5,481.3 173.1,483.7 173.7,485.8 174.3,487.6 175.0,489.0 175.6,490.2 176.2,491.0 176.9,491.5 177.5,491.7 178.2,491.5 178.8,491.1 179.5,490.3 180.1,489.2 180.8,487.8 181.4,486.1 182.1,484.1 182.8,481.9 183.4,479.4 184.1,476.7 184.7,473.7 185.4,470.5 186.0,467.2 186.7,463.7 187.4,460.0 188.0,456.2 188.7,452.3 189.3,448.4 190.0,444.4 190.7,440.4 191.3,436.3 192.0,432.3 192.6,428.4 193.3,424.5 193.9,420.7 194.6,417.0 195.3,413.5 195.9,410.2 196.6,407.0 197.2,404.0 197.9,401.3 198.5,398.8 199.2,396.6 199.9,394.6 200.5,392.9 201.2,391.5 201.8,390.4 202.5,389.6 203.1,389.2 203.8,389.0 204.4,389.2 205.0,389.7 205.7,390.5 206.3,391.7 206.9,393.2 207.5,395.0 208.2,397.1 208.8,399.6 209.4,402.2 210.0,405.2 210.6,408.4 211.3,411.8 211.9,415.4 212.5,419.2 213.1,423.1 213.8,427.2 214.4,431.4 215.0,435.6 215.6,439.9 216.2,444.2 216.9,448.6 217.5,452.9 218.1,457.1 218.7,461.3 219.4,465.4 220.0,469.3 220.6,473.1 221.2,476.7 221.9,480.1 222.5,483.3 223.1,486.3 223.7,488.9 224.3,491.4 225.0,493.5 225.6,495.3 226.2,496.8 226.8,498.0 227.5,498.8 228.1,499.3 228.7,499.5 229.4,499.3 230.1,498.7 230.7,497.7 231.4,496.4 232.1,494.6 232.8,492.5 233.5,490.1 234.2,487.3 234.8,484.2 235.5,480.8 236.2,477.1 236.9,473.2 237.6,469.0 238.3,464.6 238.9,460.1 239.6,455.4 240.3,450.6 241.0,445.6 241.7,440.7 242.3,435.7 243.0,430.6 243.7,425.7 244.4,420.7 245.1,415.9 245.8,411.2 246.4,406.7 247.1,402.3 247.8,398.1 248.5,394.2 249.2,390.5 249.9,387.1 250.5,384.0 251.2,381.2 251.9,378.8 252.6,376.7 253.3,374.9 254.0,373.6 254.6,372.6 255.3,372.0 256.0,371.8 256.6,372.0 257.3,372.6 257.9,373.6 258.6,375.0 259.2,376.8 259.8,379.0 260.5,381.5 261.1,384.3 261.7,387.5 262.4,391.0 263.0,394.8 263.6,398.9 264.3,403.2 264.9,407.7 265.6,412.4 266.2,417.2 266.8,422.2 267.5,427.2 268.1,432.3 268.8,437.5 269.4,442.7 270.0,447.8 270.7,452.8 271.3,457.8 271.9,462.6 272.6,467.3 273.2,471.8 273.9,476.1 274.5,480.2 275.1,484.0 275.8,487.5 276.4,490.7 277.0,493.5 277.7,496.0 278.3,498.2 278.9,500.0 279.6,501.4 280.2,502.4 280.9,503.0 281.5,503.2 282.2,503.0 282.8,502.5 283.5,501.6 284.1,500.3 284.8,498.7 285.4,496.7 286.1,494.5 286.7,491.9 287.4,489.0 288.1,485.8 288.7,482.4 289.4,478.7 290.0,474.9 290.7,470.8 291.3,466.6 292.0,462.2 292.6,457.7 293.3,453.1 293.9,448.5 294.6,443.9 295.3,439.2 295.9,434.6 296.6,430.0 297.2,425.5 297.9,421.1 298.5,416.9 299.2,412.8 299.8,409.0 300.5,405.3 301.1,401.9 301.8,398.7 302.5,395.8 303.1,393.2 303.8,391.0 304.4,389.0 305.1,387.4 305.7,386.1 306.4,385.2 307.0,384.7 307.7,384.5 308.3,384.7 308.9,385.2 309.5,386.2 310.1,387.5 310.7,389.1 311.3,391.1 311.9,393.5 312.5,396.1 313.1,399.1 313.7,402.3 314.3,405.8 314.9,409.6 315.5,413.6 316.1,417.7 316.7,422.1 317.3,426.5 317.9,431.1 318.5,435.8 319.1,440.6 319.8,445.3 320.4,450.1 321.0,454.9 321.6,459.6 322.2,464.2 322.8,468.6 323.4,473.0 324.0,477.1 324.6,481.1 325.2,484.9 325.8,488.4 326.4,491.6 327.0,494.6 327.6,497.2 328.2,499.6 328.8,501.6 329.4,503.2 330.0,504.5 330.6,505.5 331.2,506.0 331.8,506.2 332.5,506.0 333.2,505.3 333.9,504.2 334.5,502.6 335.2,500.6 335.9,498.2 336.6,495.5 337.3,492.3 338.0,488.7 338.6,484.8 339.3,480.6 340.0,476.1 340.7,471.4 341.4,466.4 342.1,461.2 342.8,455.8 343.4,450.3 344.1,444.7 344.8,439.0 345.5,433.2 346.2,427.5 346.9,421.8 347.6,416.2 348.2,410.7 348.9,405.3 349.6,400.1 350.3,395.1 351.0,390.4 351.7,385.9 352.4,381.7 353.0,377.8 353.7,374.2 354.4,371.0 355.1,368.3 355.8,365.9 356.5,363.9 357.1,362.3 357.8,361.2 358.5,360.5 359.2,360.3 359.8,360.5 360.5,361.2 361.1,362.4 361.8,364.0 362.4,366.1 363.0,368.6 363.7,371.5 364.3,374.8 365.0,378.5 365.6,382.6 366.2,387.0 366.9,391.7 367.5,396.6 368.2,401.9 368.8,407.3 369.4,412.9 370.1,418.6 370.7,424.5 371.4,430.4 372.0,436.4 372.6,442.4 373.3,448.3 373.9,454.2 374.6,459.9 375.2,465.5 375.8,470.9 376.5,476.2 377.1,481.1 377.8,485.8 378.4,490.2 379.0,494.3 379.7,498.0 380.3,501.3 381.0,504.2 381.6,506.7 382.2,508.8 382.9,510.4 383.5,511.6 384.2,512.3 384.8,512.5 385.5,512.3 386.1,511.7 386.8,510.7 387.4,509.3 388.1,507.5 388.7,505.3 389.4,502.8 390.0,499.9 390.7,496.7 391.4,493.2 392.0,489.5 392.7,485.4 393.3,481.1 394.0,476.6 394.6,471.9 395.3,467.1 395.9,462.1 396.6,457.0 397.2,451.9 397.9,446.8 398.6,441.6 399.2,436.5 399.9,431.4 400.5,426.4 401.2,421.6 401.8,416.9 402.5,412.4 403.1,408.1 403.8,404.0 404.4,400.3 405.1,396.8 405.8,393.6 406.4,390.7 407.1,388.2 407.7,386.0 408.4,384.2 409.0,382.8 409.7,381.8 410.3,381.2 411.0,381.0 411.6,381.2 412.2,381.8 412.8,382.8 413.4,384.2 414.0,386.0 414.6,388.1 415.2,390.6 415.8,393.5 416.4,396.6 417.0,400.1 417.6,403.9 418.2,407.9 418.8,412.2 419.4,416.6 420.0,421.3 420.6,426.1 421.2,431.0 421.8,436.0 422.4,441.1 423.0,446.2 423.6,451.4 424.2,456.5 424.8,461.5 425.4,466.4 426.0,471.2 426.6,475.9 427.2,480.3 427.8,484.6 428.4,488.6 429.0,492.4 429.6,495.9 430.2,499.0 430.8,501.9 431.4,504.4 432.0,506.5 432.6,508.3 433.2,509.7 433.8,510.7 434.4,511.3 435.0,511.5 435.7,511.3 436.4,510.5 437.0,509.3 437.7,507.6 438.4,505.4 439.1,502.7 439.8,499.6 440.4,496.1 441.1,492.2 441.8,487.9 442.5,483.3 443.2,478.3 443.8,473.1 444.5,467.5 445.2,461.8 445.9,455.9 446.6,449.8 447.2,443.6 447.9,437.3 448.6,431.0 449.3,424.7 450.0,418.4 450.6,412.2 451.3,406.1 452.0,400.2 452.7,394.5 453.4,388.9 454.0,383.7 454.7,378.7 455.4,374.1 456.1,369.8 456.8,365.9 457.4,362.4 458.1,359.3 458.8,356.6 459.5,354.4 460.2,352.7 460.8,351.5 461.5,350.7 462.2,350.5 462.8,350.8 463.5,351.5 464.1,352.8 464.8,354.6 465.4,356.9 466.1,359.6 466.7,362.8 467.4,366.5 468.0,370.5 468.6,375.0 469.3,379.8 469.9,385.0 470.6,390.4 471.2,396.2 471.9,402.1 472.5,408.3 473.2,414.6 473.8,421.1 474.5,427.6 475.1,434.1 475.7,440.7 476.4,447.2 477.0,453.7 477.7,460.0 478.3,466.2 479.0,472.1 479.6,477.9 480.3,483.3 480.9,488.5 481.6,493.3 482.2,497.8 482.8,501.8 483.5,505.5 484.1,508.7 484.8,511.4 485.4,513.7 486.1,515.5 486.7,516.8 487.4,517.5 488.0,517.8 488.6,517.6 489.3,516.9 489.9,515.9 490.6,514.4 491.2,512.5 491.9,510.2 492.6,507.6 493.2,504.5 493.9,501.1 494.5,497.4 495.1,493.4 495.8,489.2 496.4,484.6 497.1,479.9 497.8,474.9 498.4,469.8 499.1,464.5 499.7,459.2 500.4,453.8 501.0,448.3 501.6,442.8 502.3,437.4 502.9,432.1 503.6,426.8 504.2,421.7 504.9,416.7 505.6,412.0 506.2,407.4 506.9,403.2 507.5,399.2 508.1,395.5 508.8,392.1 509.4,389.0 510.1,386.4 510.8,384.1 511.4,382.2 512.0,380.7 512.7,379.7 513.4,379.0 514.0,378.8 514.6,379.0 515.2,379.6 515.8,380.7 516.4,382.1 517.0,384.0 517.6,386.2 518.2,388.8 518.8,391.8 519.4,395.1 520.0,398.7 520.5,402.6 521.1,406.8 521.7,411.2 522.3,415.9 522.9,420.7 523.5,425.7 524.1,430.8 524.7,436.1 525.3,441.4 525.9,446.7 526.5,452.0 527.1,457.3 527.7,462.6 528.3,467.7 528.9,472.7 529.5,477.5 530.1,482.2 530.7,486.6 531.3,490.8 531.8,494.7 532.4,498.3 533.0,501.6 533.6,504.6 534.2,507.2 534.8,509.4 535.4,511.3 536.0,512.7 536.6,513.8 537.2,514.4 537.8,514.6 538.5,514.3 539.2,513.6 539.9,512.3 540.5,510.4 541.2,508.1 541.9,505.3 542.6,502.1 543.3,498.4 544.0,494.2 544.7,489.7 545.4,484.8 546.0,479.5 546.7,474.0 547.4,468.2 548.1,462.1 548.8,455.8 549.5,449.4 550.2,442.9 550.9,436.2 551.5,429.6 552.2,422.9 552.9,416.2 553.6,409.7 554.3,403.3 555.0,397.0 555.7,390.9 556.4,385.1 557.0,379.6 557.7,374.3 558.4,369.4 559.1,364.9 559.8,360.7 560.5,357.0 561.2,353.8 561.9,351.0 562.5,348.7 563.2,346.8 563.9,345.5 564.6,344.8 565.3,344.5 565.9,344.8 566.6,345.6 567.2,346.9 567.9,348.8 568.5,351.1 569.2,354.0 569.8,357.3 570.4,361.1 571.1,365.3 571.7,370.0 572.4,375.0 573.0,380.4 573.7,386.0 574.3,392.0 574.9,398.2 575.6,404.6 576.2,411.2 576.9,417.9 577.5,424.7 578.1,431.5 578.8,438.3 579.4,445.1 580.1,451.8 580.7,458.4 581.4,464.8 582.0,471.0 582.6,477.0 583.3,482.6 583.9,488.0 584.6,493.0 585.2,497.7 585.9,501.9 586.5,505.7 587.1,509.0 587.8,511.9 588.4,514.2 589.1,516.1 589.7,517.4 590.4,518.2 591.0,518.5 591.6,518.3 592.3,517.6 592.9,516.6 593.6,515.1 594.2,513.2 594.9,510.9 595.5,508.2 596.2,505.2 596.8,501.8 597.5,498.1 598.1,494.0 598.7,489.7 599.4,485.2 600.0,480.4 600.7,475.4 601.3,470.3 602.0,465.0 602.6,459.7 603.3,454.2 603.9,448.8 604.5,443.3 605.2,437.8 605.8,432.5 606.5,427.2 607.1,422.1 607.8,417.1 608.4,412.3 609.1,407.8 609.7,403.5 610.3,399.4 611.0,395.7 611.6,392.3 612.3,389.3 612.9,386.6 613.6,384.3 614.2,382.4 614.9,380.9 615.5,379.9 616.2,379.2 616.8,379.0 617.4,379.2 618.0,379.8 618.6,380.9 619.1,382.3 619.7,384.2 620.3,386.4 620.9,389.0 621.5,392.0 622.1,395.3 622.7,398.9 623.3,402.8 623.8,407.0 624.4,411.4 625.0,416.0 625.6,420.9 626.2,425.9 626.8,431.0 627.4,436.2 628.0,441.5 628.5,446.9 629.1,452.2 629.7,457.5 630.3,462.7 630.9,467.8 631.5,472.8 632.1,477.7 632.7,482.3 633.2,486.7 633.8,490.9 634.4,494.8 635.0,498.4 635.6,501.7 636.2,504.7 636.8,507.3 637.4,509.5 637.9,511.4 638.5,512.8 639.1,513.9 639.7,514.5 640.3,514.7 641.0,514.4 641.7,513.6 642.4,512.3 643.1,510.5 643.8,508.1 644.5,505.3 645.2,502.0 645.9,498.3 646.6,494.1 647.3,489.5 648.0,484.5 648.7,479.2 649.4,473.6 650.1,467.7 650.8,461.5 651.5,455.2 652.2,448.7 652.9,442.1 653.6,435.4 654.3,428.6 655.0,421.8 655.7,415.1 656.4,408.5 657.1,402.0 657.8,395.7 658.5,389.5 659.2,383.6 659.9,378.0 660.6,372.7 661.3,367.7 662.0,363.1 662.7,358.9 663.4,355.2 664.1,351.9 664.8,349.1 665.5,346.7 666.2,344.9 666.9,343.6 667.6,342.8 668.3,342.5 668.9,342.8 669.6,343.6 670.2,344.9 670.9,346.7 671.5,349.1 672.2,351.9 672.8,355.3 673.4,359.0 674.1,363.2 674.7,367.9 675.4,372.9 676.0,378.2 676.7,383.9 677.3,389.8 677.9,396.0 678.6,402.3 679.2,408.9 679.9,415.6 680.5,422.3 681.1,429.1 681.8,435.9 682.4,442.6 683.1,449.3 683.7,455.9 684.4,462.2 685.0,468.4 685.6,474.3 686.3,480.0 686.9,485.3 687.6,490.3 688.2,495.0 688.9,499.2 689.5,502.9 690.1,506.3 690.8,509.1 691.4,511.5 692.1,513.3 692.7,514.6 693.4,515.4 694.0,515.7 694.6,515.5 695.3,514.9 695.9,513.8 696.6,512.4 697.2,510.6 697.9,508.4 698.5,505.8 699.1,502.9 699.8,499.6 700.4,496.0 701.1,492.1 701.7,488.0 702.4,483.6 703.0,479.0 703.6,474.2 704.3,469.3 704.9,464.2 705.6,459.0 706.2,453.8 706.9,448.5 707.5,443.2 708.1,438.0 708.8,432.8 709.4,427.7 710.1,422.8 710.7,418.0 711.3,413.4 712.0,409.0 712.6,404.9 713.3,401.0 713.9,397.4 714.6,394.1 715.2,391.2 715.8,388.6 716.5,386.4 717.1,384.6 717.8,383.2 718.4,382.1 719.1,381.5 719.7,381.3 720.3,381.5 720.9,382.1 721.5,383.1 722.1,384.5 722.7,386.2 723.2,388.4 723.8,390.9 724.4,393.7 725.0,396.9 725.6,400.3 726.2,404.1 726.8,408.1 727.4,412.3 728.0,416.8 728.5,421.4 729.1,426.2 729.7,431.1 730.3,436.1 730.9,441.2 731.5,446.3 732.1,451.4 732.7,456.5 733.3,461.5 733.9,466.4 734.5,471.2 735.0,475.8 735.6,480.3 736.2,484.5 736.8,488.5 737.4,492.3 738.0,495.7 738.6,498.9 739.2,501.7 739.8,504.2 740.3,506.4 740.9,508.1 741.5,509.5 742.1,510.5 742.7,511.1 743.3,511.3 744.0,511.0 744.7,510.3 745.4,509.0 746.1,507.3 746.8,505.0 747.5,502.3 748.1,499.1 748.8,495.5 749.5,491.5 750.2,487.1 750.9,482.4 751.6,477.3 752.3,471.9 753.0,466.2 753.7,460.3 754.4,454.3 755.1,448.0 755.8,441.7 756.5,435.2 757.1,428.8 757.8,422.3 758.5,415.8 759.2,409.5 759.9,403.2 760.6,397.2 761.3,391.3 762.0,385.6 762.7,380.2 763.4,375.1 764.1,370.4 764.8,366.0 765.5,362.0 766.2,358.4 766.8,355.2 767.5,352.5 768.2,350.2 768.9,348.5 769.6,347.2 770.3,346.5 771.0,346.2 771.6,346.5 772.3,347.2 772.9,348.5 773.6,350.2 774.2,352.4 774.9,355.1 775.5,358.2 776.1,361.8 776.8,365.7 777.4,370.1 778.1,374.8 778.7,379.8 779.4,385.1 780.0,390.7 780.6,396.5 781.3,402.5 781.9,408.7 782.6,415.0 783.2,421.4 783.9,427.8 784.5,434.1 785.1,440.5 785.8,446.8 786.4,453.0 787.1,459.0 787.7,464.8 788.3,470.4 789.0,475.7 789.6,480.7 790.3,485.4 790.9,489.8 791.6,493.7 792.2,497.3 792.8,500.4 793.5,503.1 794.1,505.3 794.8,507.0 795.4,508.3 796.1,509.0 796.7,509.3 797.4,509.1 798.0,508.5 798.7,507.5 799.3,506.2 800.0,504.5 800.6,502.4 801.2,499.9 801.9,497.1 802.6,494.1 803.2,490.7 803.9,487.0 804.5,483.1 805.2,478.9 805.8,474.6 806.5,470.0 807.1,465.3 807.8,460.5 808.4,455.6 809.1,450.7 809.7,445.7 810.4,440.7 811.0,435.7 811.7,430.8 812.3,426.0 813.0,421.3 813.6,416.8 814.2,412.4 814.9,408.3 815.6,404.3 816.2,400.7 816.9,397.3 817.5,394.2 818.2,391.4 818.8,389.0 819.5,386.9 820.1,385.2 820.8,383.8 821.4,382.8 822.1,382.2 822.7,382.0"/>
<line x1="116.5" y1="439.83" x2="814.5" y2="439.83" stroke="#000000" stroke-width="1.05"/></g>
<g stroke="#262626" stroke-width="1" fill="none" shape-rendering="crispEdges">
<line x1="173.5" y1="534.0" x2="173.5" y2="526.0"/>
<line x1="173.5" y1="335.0" x2="173.5" y2="343.0"/>
<line x1="272.5" y1="534.0" x2="272.5" y2="526.0"/>
<line x1="272.5" y1="335.0" x2="272.5" y2="343.0"/>
<line x1="372.5" y1="534.0" x2="372.5" y2="526.0"/>
<line x1="372.5" y1="335.0" x2="372.5" y2="343.0"/>
<line x1="472.5" y1="534.0" x2="472.5" y2="526.0"/>
<line x1="472.5" y1="335.0" x2="472.5" y2="343.0"/>
<line x1="572.5" y1="534.0" x2="572.5" y2="526.0"/>
<line x1="572.5" y1="335.0" x2="572.5" y2="343.0"/>
<line x1="671.5" y1="534.0" x2="671.5" y2="526.0"/>
<line x1="671.5" y1="335.0" x2="671.5" y2="343.0"/>
<line x1="771.5" y1="534.0" x2="771.5" y2="526.0"/>
<line x1="771.5" y1="335.0" x2="771.5" y2="343.0"/>
<line x1="116.0" y1="533.5" x2="124.0" y2="533.5"/>
<line x1="815.0" y1="533.5" x2="807.0" y2="533.5"/>
<line x1="116.0" y1="467.5" x2="124.0" y2="467.5"/>
<line x1="815.0" y1="467.5" x2="807.0" y2="467.5"/>
<line x1="116.0" y1="401.5" x2="124.0" y2="401.5"/>
<line x1="815.0" y1="401.5" x2="807.0" y2="401.5"/>
<line x1="116.0" y1="335.5" x2="124.0" y2="335.5"/>
<line x1="815.0" y1="335.5" x2="807.0" y2="335.5"/>
</g>
<text class="tk xl" x="172.9" y="562.6" text-anchor="middle">Thu</text>
<text class="tk xl" x="271.9" y="562.6" text-anchor="middle">Fri</text>
<text class="tk xl" x="371.9" y="562.6" text-anchor="middle">Sat</text>
<text class="tk xl" x="471.9" y="562.6" text-anchor="middle">Sun</text>
<text class="tk xl" x="571.9" y="562.6" text-anchor="middle">Mon</text>
<text class="tk xl" x="670.9" y="562.6" text-anchor="middle">Tue</text>
<text class="tk xl" x="770.9" y="562.6" text-anchor="middle">Wed</text>
<text class="tk" x="107.6" y="541.0" text-anchor="end">0</text>
<text class="tk" x="107.6" y="475.0" text-anchor="end">0.5</text>
<text class="tk" x="107.6" y="409.0" text-anchor="end">1</text>
<text class="tk" x="107.6" y="343.2" text-anchor="end">1.5</text>
<text class="lb lb2" transform="translate(63.3,434.7) rotate(-90)" text-anchor="middle">Tidal Height relative to LAT, m</text>
<text class="t2" x="464.3" y="323" text-anchor="middle" xml:space="preserve">Tidal Currents and Heights for CSA (ONHYM) PPL EBS  – Senegal at 20251231</text>
</svg>
</body>
</html>
